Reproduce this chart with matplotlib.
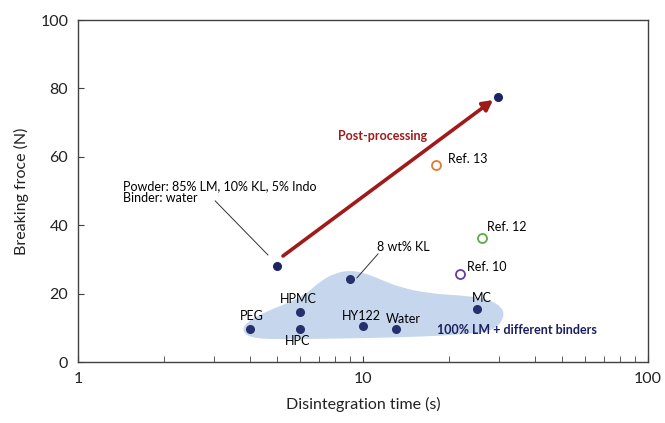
import matplotlib
matplotlib.use("Agg")
import matplotlib.pyplot as plt
from matplotlib.patches import PathPatch, FancyArrowPatch
from matplotlib.path import Path
from matplotlib.ticker import LogLocator, NullFormatter, FixedLocator

plt.rcParams['font.family'] = ['Lato', 'DejaVu Sans']

# ---- data ----
binder_labels = ["PEG", "HPMC", "HPC", "HY122", "Water", "MC"]
binder_time = [4.0, 6.0, 6.0, 10.0, 13.1, 25.1]
binder_force = [9.6, 14.6, 9.6, 10.5, 9.6, 15.5]

kl8_time = [9.0]
kl8_force = [24.3]

powder_time = [5.0]
powder_force = [28.1]

post_time = [29.8]
post_force = [77.5]

ref_labels = ["Ref. 13", "Ref. 12", "Ref. 10"]
ref_time = [18.0, 26.2, 21.9]
ref_force = [57.6, 36.3, 25.7]
ref_colors = ["#e07b39", "#5aae45", "#6a3aa5"]

# highlighted region outline (data units) around the 100% LM points
blob_time = [3.75, 3.95, 4.42, 5.32, 6.26, 7.07, 7.98, 9.0, 10.16, 11.47, 13.49,
             17.18, 22.8, 27.9, 31.5, 30.5, 27.9, 21.9, 15.85, 10.58, 7.07, 5.11, 4.01]
blob_force = [9.4, 11.9, 14.2, 16.9, 19.6, 23.6, 26.0, 26.8, 26.0, 24.2, 21.8,
              20.0, 19.4, 18.3, 15.2, 11.2, 9.0, 8.0, 7.4, 7.0, 6.8, 6.6, 7.0]

navy = "#1b2563"

fig = plt.figure(figsize=(6.65, 4.23), dpi=100)
ax = fig.add_axes([78/665, 61/423, 570/665, 342/423])

# smooth closed outline: vertices as control points, midpoints on-curve
pts = list(zip(blob_time, blob_force))
n = len(pts)
mids = [((pts[i][0] * pts[(i + 1) % n][0]) ** 0.5, (pts[i][1] + pts[(i + 1) % n][1]) / 2)
        for i in range(n)]
verts = [mids[-1]]
codes = [Path.MOVETO]
for i in range(n):
    verts += [pts[i], mids[i]]
    codes += [Path.CURVE3, Path.CURVE3]
ax.add_patch(PathPatch(Path(verts, codes), facecolor="#c6d6ec", edgecolor="none", zorder=1))

ax.plot(binder_time, binder_force, 'o', color="#27306e", ms=5.5, zorder=3)
ax.plot(kl8_time, kl8_force, 'o', color="#27306e", ms=5.5, zorder=3)
ax.plot(powder_time, powder_force, 'o', color=navy, ms=5.5, zorder=3)
ax.plot(post_time, post_force, 'o', color=navy, ms=5.5, zorder=3)
for t, f, c in zip(ref_time, ref_force, ref_colors):
    ax.plot([t], [f], 'o', mfc="white", mec=c, mew=1.3, ms=6.5, zorder=3)

# arrow
arr = FancyArrowPatch((5.24, 31.0), (28.6, 76.6), arrowstyle="-|>,head_length=6,head_width=3.2",
                      color="#a01a1a", lw=2.6, zorder=2, shrinkA=0, shrinkB=0)
ax.add_patch(arr)

fs = 9.0
ax.text(11.75, 66.1, "Post-processing", color="#a01a1a", fontsize=fs,
        fontweight="bold", ha="center", va="center")
ax.text(19.9, 59.4, ref_labels[0], fontsize=fs, ha="left", va="center")
ax.text(27.2, 39.5, ref_labels[1], fontsize=fs, ha="left", va="center")
ax.text(23.2, 27.8, ref_labels[2], fontsize=fs, ha="left", va="center")

ax.text(11.2, 33.6, "8 wt% KL", fontsize=fs, ha="left", va="center")
ax.plot([9.52, 11.29], [24.6, 31.6], color="#333333", lw=0.7, zorder=2)

ax.text(1.44, 49.6, "Powder: 85% LM, 10% KL, 5% Indo\nBinder: water", fontsize=fs,
        ha="left", va="center", linespacing=0.95)
ax.plot([3.03, 4.64], [47.1, 31.3], color="#333333", lw=0.7, zorder=2)

label_pos = [(4.08, 13.45), (5.91, 18.4), (5.91, 6.1), (9.84, 13.45), (13.8, 12.6), (26.2, 18.7)]
for lab, (x, y) in zip(binder_labels, label_pos):
    ax.text(x, y, lab, fontsize=fs, ha="center", va="center")

ax.text(34.7, 9.4, "100% LM + different binders", fontsize=fs, fontweight="bold",
        color="#1b1f5e", ha="center", va="center")

ax.set_xscale("log")
ax.set_xlim(1, 100)
ax.set_ylim(0, 100)
ax.set_yticks([0, 20, 40, 60, 80, 100])
ax.xaxis.set_major_locator(FixedLocator([1, 10, 100]))
ax.set_xticklabels(["1", "10", "100"])
ax.xaxis.set_minor_locator(LogLocator(base=10, subs=range(2, 10)))
ax.xaxis.set_minor_formatter(NullFormatter())
ax.tick_params(axis="both", which="both", direction="in", color="#404040",
               labelsize=11.5, labelcolor="#222222")
ax.tick_params(axis="both", which="major", length=4, pad=7)
ax.tick_params(axis="x", which="minor", length=4)
ax.tick_params(axis="y", which="both", right=False)
for s in ax.spines.values():
    s.set_color("#404040")
    s.set_linewidth(1.0)

ax.set_xlabel("Disintegration time (s)", fontsize=11.5, color="#222222", labelpad=8)
ax.set_ylabel("Breaking froce (N)", fontsize=11.5, color="#222222", labelpad=8)

fig.savefig("out.png", dpi=100)
